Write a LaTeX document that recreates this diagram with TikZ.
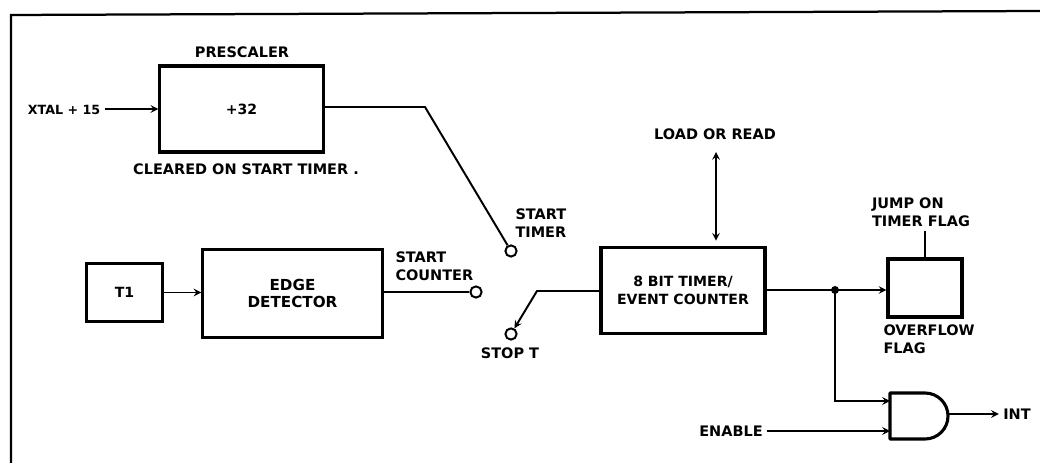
\documentclass[tikz,border=0pt]{standalone}
\usepackage{fontspec}
\setmainfont{DejaVu Sans}
\begin{document}
\begin{tikzpicture}[
  x=0.025cm, y=-0.025cm,
  block/.style={draw, line width=2.2pt, inner sep=0pt, align=center, font=\fontsize{10}{12.6}\selectfont\bfseries},
  label/.style={inner sep=3pt, font=\fontsize{10.3}{12.6}\selectfont\bfseries, align=left},
  wire/.style={line width=1.4pt},
  arrow/.style={wire, ->, >=stealth},
  contact/.style={circle, draw, line width=1.4pt, inner sep=0pt, minimum size=8pt},
]
\useasboundingbox (0,0) rectangle (1040,464);
% Frame
\draw[line width=1.6pt] (11,463) -- (11,15) -- (1040,11);

% Prescaler
\node[block, minimum width=4.08cm, minimum height=2.15cm] (pre) at (241.5,109) {+32};
\node[label] (pretitle) at (242,52) {PRESCALER};
\node[label, font=\fontsize{9}{12.6}\selectfont\bfseries] (xtal) at (64,110) {XTAL + 15};
\node[label] (cleared) at (246,169) {CLEARED ON START TIMER .};
\node[contact] (st) at (511,251) {};
\node[label, anchor=west] (sttext) at (511,223) {START\\TIMER};
\coordinate (bend) at (425,107);
\draw[arrow] (xtal.east|-pre) -- (pre);
\draw[wire] (pre.east|-bend) -- (bend) -- (st);

% Edge detector
\node[block, minimum width=1.88cm, minimum height=1.43cm] (t1) at (124.5,292.5) {T1};
\node[block, minimum width=4.48cm, minimum height=2.18cm, font=\fontsize{10.8}{12.6}\selectfont\bfseries] (edge) at (292.5,293.5) {EDGE\\DETECTOR};
\node[contact] (sc) at (476,292) {};
\node[label, anchor=west] (sctext) at (391,266.5) {START\\COUNTER};
\draw[arrow] (t1) -- (edge.west|-t1);
\draw[wire] (edge.east|-sc) -- (sc);

% Timer
\node[block, minimum width=4.1cm, minimum height=2.13cm] (timer) at (683,290.5) {8 BIT TIMER/\\EVENT COUNTER};
\node[label] (load) at (715,134) {LOAD OR READ};
\node[contact] (stop) at (511,334) {};
\node[label] (stoptext) at (510,353) {STOP T};
\coordinate (arm) at (537,291);
\coordinate (loadend) at (716,152);
\draw[arrow] (timer.west|-arm) -- (arm) -- (stop);
\draw[wire, <->, >=stealth, shorten >=4pt] (loadend) -- (timer.north-|loadend);

% Overflow flag
\node[block, minimum width=1.85cm, minimum height=1.45cm] (flag) at (925,288) {};
\node[label, anchor=west] (flagtext) at (879,339.5) {OVERFLOW\\FLAG};
\node[label] (jump) at (921,212) {JUMP ON\\TIMER FLAG};
\coordinate (dot) at (835,290);
\draw[wire] (jump.south-|flag) -- (flag);
\draw[arrow] (timer.east|-dot) -- (flag.west|-dot);
\fill (dot) circle (4);

% Interrupt gate
\coordinate (gtop) at (890,393);
\coordinate (gbot) at (890,439);
\coordinate (gin) at (890,401);
\coordinate (gen) at (890,431);
\coordinate (gout) at (948,416);
\draw[line width=2.2pt, line join=round] (gtop) -- (925,393) arc (90:-90:0.575cm) -- (gbot) -- cycle;
\node[label] (enable) at (731,431) {ENABLE};
\node[label] (int) at (1017,414) {INT};
\draw[arrow] (dot) |- (gin);
\draw[arrow] (enable) -- (gen);
\draw[arrow] (gout|-int) -- (int);
\end{tikzpicture}
\end{document}
